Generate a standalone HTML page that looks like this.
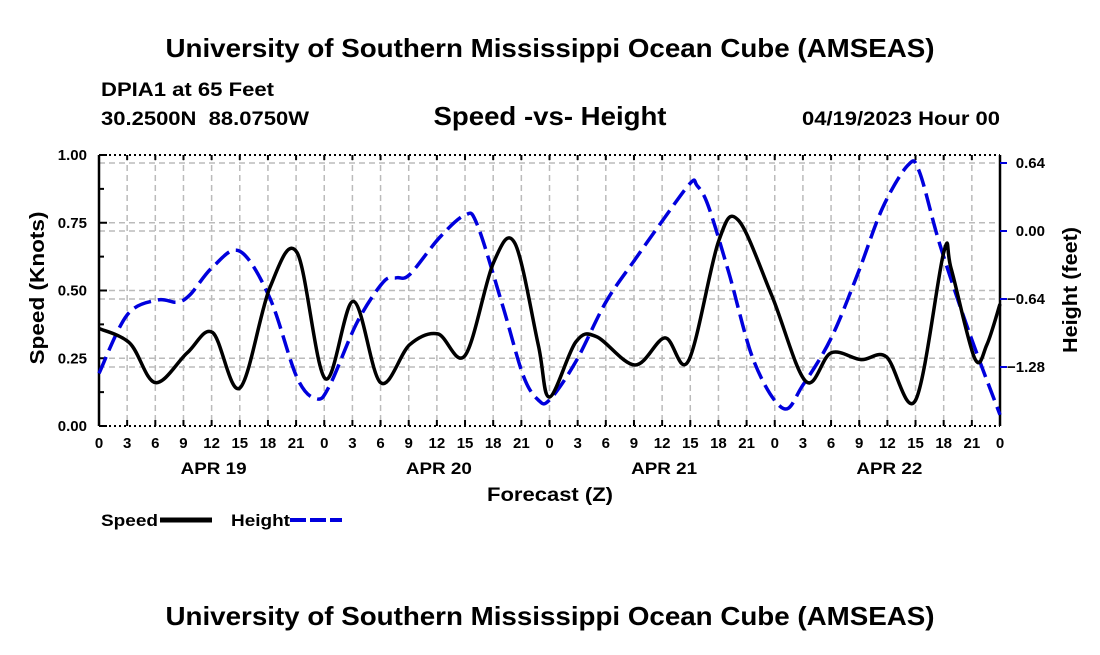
<!DOCTYPE html>
<html><head><meta charset="utf-8"><style>
body{margin:0;background:#fff;width:1100px;height:650px;overflow:hidden}
svg text{font-family:"Liberation Sans",Arial,sans-serif;font-weight:bold;fill:#000}
</style></head><body>
<svg id="chart" width="1100" height="650" xmlns="http://www.w3.org/2000/svg">
<text x="550" y="57" font-size="26" text-anchor="middle" textLength="769" lengthAdjust="spacingAndGlyphs">University of Southern Mississippi Ocean Cube (AMSEAS)</text>
<text x="101" y="96" font-size="19" textLength="173" lengthAdjust="spacingAndGlyphs">DPIA1 at 65 Feet</text>
<text x="101" y="125" font-size="19" xml:space="preserve" textLength="208" lengthAdjust="spacingAndGlyphs">30.2500N  88.0750W</text>
<text x="550" y="125" font-size="26" text-anchor="middle" textLength="233" lengthAdjust="spacingAndGlyphs">Speed -vs- Height</text>
<text x="1000" y="125" font-size="19" text-anchor="end" textLength="198" lengthAdjust="spacingAndGlyphs">04/19/2023 Hour 00</text>
<g id="grid"></g><g id="axes"></g><g id="series"></g>
<text transform="translate(44,288) rotate(-90)" font-size="20" text-anchor="middle" textLength="153" lengthAdjust="spacingAndGlyphs">Speed (Knots)</text>
<text transform="translate(1077,290) rotate(-90)" font-size="20" text-anchor="middle" textLength="126" lengthAdjust="spacingAndGlyphs">Height (feet)</text>
<text x="550" y="501" font-size="19" text-anchor="middle" textLength="126" lengthAdjust="spacingAndGlyphs">Forecast (Z)</text>
<g>
<text x="101" y="526" font-size="17" textLength="57" lengthAdjust="spacingAndGlyphs">Speed</text>
<line x1="160" y1="520" x2="212" y2="520" stroke="#000" stroke-width="5"/>
<text x="231" y="526" font-size="17" textLength="59" lengthAdjust="spacingAndGlyphs">Height</text>
<line x1="290" y1="520" x2="342" y2="520" stroke="#0000dd" stroke-width="4" stroke-dasharray="16,4"/>
</g>
<text x="550" y="625" font-size="26" text-anchor="middle" textLength="769" lengthAdjust="spacingAndGlyphs">University of Southern Mississippi Ocean Cube (AMSEAS)</text>
</svg>
<script>
const speedHours=[0,3.3,6,9.4,12.1,15,18.2,21.1,24.1,27.1,30,33.1,36.1,39,42,44.3,46.8,48,50.8,53,57.1,60.3,62.8,66,68.1,71.7,75.3,78,81.2,83.9,87,90,90.8,93.3,94.6,96];
const speedValues=[0.36,0.305,0.16,0.27,0.345,0.14,0.51,0.64,0.175,0.46,0.16,0.30,0.34,0.26,0.60,0.675,0.30,0.107,0.31,0.33,0.225,0.325,0.24,0.68,0.76,0.48,0.165,0.27,0.245,0.255,0.095,0.64,0.58,0.25,0.30,0.45];
const heightHours=[0,3,6.2,8.3,9.7,12.1,15,18.2,21.1,23.2,24.6,27.5,30.3,31.7,33.1,36.3,39,40.3,43,45.2,46.8,48,50.8,54,57.1,59.9,63,63.7,64.9,67.1,69.8,72.9,75,78,80.9,83.5,86.2,87.4,89.6,92.7,96];
const heightValues=[-1.34,-0.79,-0.65,-0.67,-0.60,-0.34,-0.19,-0.63,-1.38,-1.58,-1.45,-0.86,-0.48,-0.44,-0.41,-0.06,0.15,0.06,-0.70,-1.36,-1.59,-1.59,-1.23,-0.67,-0.27,0.08,0.45,0.43,0.24,-0.39,-1.23,-1.67,-1.45,-1.01,-0.39,0.22,0.62,0.56,-0.13,-0.95,-1.73];
const speedTicks=[0,0.25,0.5,0.75,1.0];
const heightTicks=[0.64,0,-0.64,-1.28];
const dayLabels=["APR 19","APR 20","APR 21","APR 22"];
const hourLabels=[0,3,6,9,12,15,18,21];

const X0=99,X1=1000,Y0=426,Y1=155;
const xs=h=>X0+(X1-X0)*h/96;
const ysL=v=>Y0-(Y0-Y1)*v;
const ysR=v=>231-106.25*v;
const NS="http://www.w3.org/2000/svg";
function mk(parent,tag,attrs){const e=document.createElementNS(NS,tag);for(const k in attrs)e.setAttribute(k,attrs[k]);document.getElementById(parent).appendChild(e);return e;}
for(let h=3;h<96;h+=3){const l=mk('grid','line',{x1:xs(h),x2:xs(h),y1:Y1,y2:Y0,stroke:'#bbb','stroke-width':1.5,'stroke-dasharray':'6,4'});

}
speedTicks.slice(1,4).forEach(v=>{const l=mk('grid','line',{x1:X0,x2:X1,y1:ysL(v),y2:ysL(v),stroke:'#bbb','stroke-width':1.5,'stroke-dasharray':'6,4'});

});
heightTicks.forEach(v=>{const l=mk('grid','line',{x1:X0,x2:X1,y1:ysR(v),y2:ysR(v),stroke:'#bbb','stroke-width':1.5,'stroke-dasharray':'6,4'});

});
[[X0,Y1,X0,Y0],[X1,Y1,X1,Y0]].forEach(a=>{const l=mk('axes','line',{x1:a[0],y1:a[1],x2:a[2],y2:a[3],stroke:'#000','stroke-width':2.5});

});
[Y1,Y0].forEach(y=>{const l=mk('axes','line',{x1:X0,y1:y,x2:X1,y2:y,stroke:'#000','stroke-width':2,'stroke-dasharray':'2,3'});

});
for(let h=0;h<=96;h+=3){
 const t=mk('axes','line',{x1:xs(h),x2:xs(h),y1:Y0,y2:Y0-6,stroke:'#000','stroke-width':2});
 
 
 const t2=mk('axes','line',{x1:xs(h),x2:xs(h),y1:Y1,y2:Y1+5,stroke:'#000','stroke-width':2});
 
 
 const tx=mk('axes','text',{x:xs(h),y:448,'font-size':15,'text-anchor':'middle'});
 tx.textContent=hourLabels[h%24/3];
 
 
}
dayLabels.forEach((d,i)=>{const t=mk('axes','text',{x:xs(i*24+12)+2,y:474,'font-size':17,'text-anchor':'middle',textLength:66,lengthAdjust:'spacingAndGlyphs'});t.textContent=d;

});
for(let v=0;v<=1.0001;v+=0.125){const t=mk('axes','line',{x1:X0,x2:X0+(Math.abs(v*4-Math.round(v*4))<0.01?8:5),y1:ysL(v),y2:ysL(v),stroke:'#000','stroke-width':2});

}
speedTicks.forEach(v=>{const t=mk('axes','text',{x:87,y:ysL(v)+5,'font-size':15,'text-anchor':'end'});t.textContent=v.toFixed(2);

});
heightTicks.forEach(v=>{const l=mk('axes','line',{x1:X1,x2:X1+7,y1:ysR(v),y2:ysR(v),stroke:'#0000dd','stroke-width':2});


const t=mk('axes','text',{x:1045,y:ysR(v)+5,'font-size':15,'text-anchor':'end'});t.textContent=(v<0?'\u2212':'')+Math.abs(v).toFixed(2);

});
function smooth(pts){let d='M'+pts[0][0]+','+pts[0][1];
for(let i=0;i<pts.length-1;i++){const p0=pts[i-1]||pts[i],p1=pts[i],p2=pts[i+1],p3=pts[i+2]||p2;
d+=' C'+(p1[0]+(p2[0]-p0[0])/6)+','+(p1[1]+(p2[1]-p0[1])/6)+' '+(p2[0]-(p3[0]-p1[0])/6)+','+(p2[1]-(p3[1]-p1[1])/6)+' '+p2[0]+','+p2[1];}
return d;}
const hp=heightHours.map((h,i)=>[xs(h),ysR(heightValues[i])]);
const hl=mk('series','path',{d:smooth(hp),fill:'none',stroke:'#0000dd','stroke-width':3.5,'stroke-dasharray':'18,7'});


const sp=speedHours.map((h,i)=>[xs(h),ysL(speedValues[i])]);
const sl=mk('series','path',{d:smooth(sp),fill:'none',stroke:'#000','stroke-width':3.5});


</script>
</body></html>
